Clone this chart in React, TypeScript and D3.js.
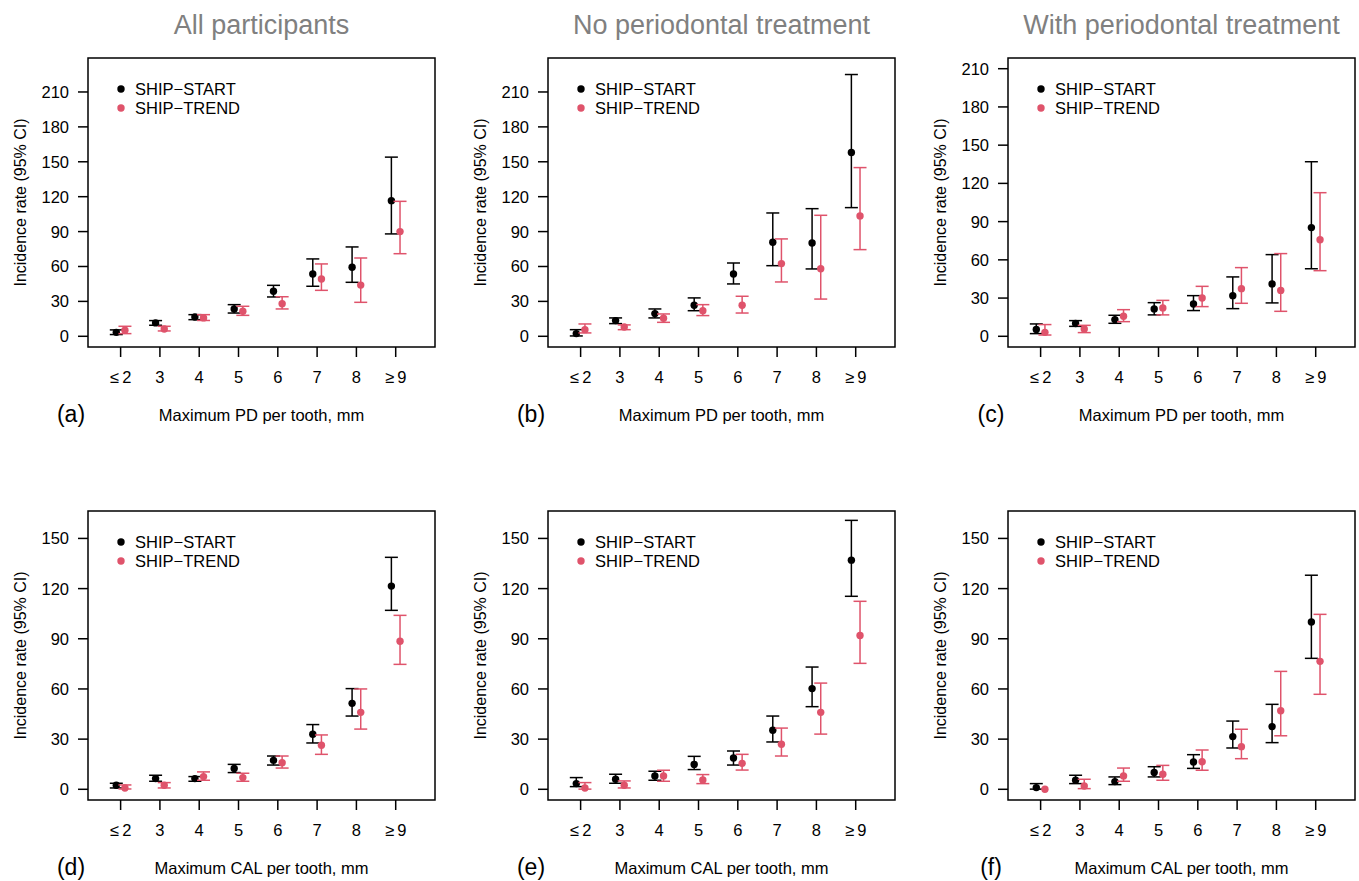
import * as d3 from "d3";
import React from "react";

const width = 1359;
const height = 881;
const font = "'Liberation Sans', Arial, Helvetica, sans-serif";
const red = "#DF536B";

// categories on the x axis
const categories = ["\u2264\u20092", "3", "4", "5", "6", "7", "8", "\u2265\u20099"];

const titles = ["All participants", "No periodontal treatment", "With periodontal treatment"];
const xTitles = ["Maximum PD per tooth, mm", "Maximum CAL per tooth, mm"];
const letters = ["(a)", "(b)", "(c)", "(d)", "(e)", "(f)"];
const legendLabels = ["SHIP\u2212START", "SHIP\u2212TREND"];

const yTicksTop = [0, 30, 60, 90, 120, 150, 180, 210];
const yTicksBottom = [0, 30, 60, 90, 120, 150];

// (a) all participants, PD
const startA = [3.4, 11.5, 16.6, 23.5, 38.7, 53.6, 59.3, 116.6];
const startALo = [1.5, 9.5, 14.3, 20, 33.8, 43, 46.4, 88];
const startAHi = [5.5, 13.5, 18.6, 27.2, 43.8, 66.5, 76.8, 154];
const trendA = [5.2, 6.3, 15.8, 21.5, 28, 49.3, 44, 90];
const trendALo = [2.3, 4.6, 13.6, 18, 23.5, 39.5, 29.2, 71];
const trendAHi = [8.6, 8.6, 18.6, 25.8, 34, 62.2, 67.3, 116];

// (b) no periodontal treatment, PD
const startB = [2.3, 13.5, 19.5, 26.7, 53.6, 80.8, 80.2, 158];
const startBLo = [0.3, 10.9, 15.8, 22, 45, 60.7, 57.9, 110.6];
const startBHi = [5.7, 15.8, 23.5, 33, 63, 106, 109.7, 225];
const trendB = [5.7, 8, 15.5, 22, 26.7, 62.5, 58, 103.5];
const trendBLo = [2.9, 5.7, 12, 17.8, 20, 46.7, 32, 74.5];
const trendBHi = [10.6, 9.8, 19.2, 27.2, 34.4, 83.7, 104, 145];

// (c) with periodontal treatment, PD
const startC = [5.3, 10, 13.1, 21.5, 25.4, 31.9, 41.1, 85.3];
const startCLo = [2.1, 7.8, 10.2, 16.8, 20.2, 21.7, 26.2, 53];
const startCHi = [9.7, 12.3, 16.5, 26.4, 31.9, 46.6, 64.1, 137];
const trendC = [3.1, 5.8, 15.7, 22.3, 30.1, 37.4, 36, 75.8];
const trendCLo = [1, 2.9, 11.5, 16.8, 23.3, 25.9, 19.6, 51.5];
const trendCHi = [9.2, 8.6, 20.9, 28.2, 39.2, 53.9, 64.9, 112.7];

// (d) all participants, CAL
const startD = [2.4, 6.4, 6.4, 12.4, 17.3, 32.9, 51.4, 121.5];
const startDLo = [0.8, 4.8, 4.8, 10, 14.5, 27.7, 43.8, 107];
const startDHi = [3.6, 8.4, 7.6, 14.9, 19.9, 38.7, 60.2, 138.7];
const trendD = [0.8, 2.4, 7.6, 7, 15.9, 26.3, 46, 88.5];
const trendDLo = [0.2, 0.8, 5.4, 4.8, 12.7, 20.9, 36, 74.7];
const trendDHi = [2.6, 4, 10.4, 9.6, 19.9, 32.5, 60, 104];

// (e) no periodontal treatment, CAL
const startE = [3.4, 6, 8, 14.9, 18.7, 35.3, 60.2, 137];
const startELo = [1.6, 3.6, 5.4, 11.8, 14.5, 28.3, 49.4, 115.4];
const startEHi = [7, 9, 10.8, 19.7, 22.9, 43.8, 73.1, 160.8];
const trendE = [0.8, 2.4, 8, 5.6, 15.5, 26.9, 46, 92];
const trendELo = [0.1, 0.8, 4.8, 3.4, 11.5, 19.9, 33, 75.3];
const trendEHi = [4, 5, 11.4, 8.8, 20.9, 36.6, 63.5, 112.4];

// (f) with periodontal treatment, CAL
const startF = [1, 5.4, 4.6, 10, 16.3, 31.5, 37.5, 100];
const startFLo = [0.1, 3.4, 2.8, 7.4, 12.5, 24.7, 27.9, 78.3];
const startFHi = [3.4, 8.4, 7.4, 13.5, 20.7, 40.8, 50.8, 128];
const trendF = [0, 2, 8, 9, 16.5, 25.5, 47, 76.5];
const trendFLo = [0, 0.4, 4.8, 5.4, 11.4, 18.3, 32, 56.8];
const trendFHi = [0.4, 6, 12.7, 14.3, 23.5, 35.9, 70.5, 104.6];

const panels = [
  { start: [startA, startALo, startAHi], trend: [trendA, trendALo, trendAHi], ymax: 230, ticks: yTicksTop },
  { start: [startB, startBLo, startBHi], trend: [trendB, trendBLo, trendBHi], ymax: 230, ticks: yTicksTop },
  { start: [startC, startCLo, startCHi], trend: [trendC, trendCLo, trendCHi], ymax: 210, ticks: yTicksTop },
  { start: [startD, startDLo, startDHi], trend: [trendD, trendDLo, trendDHi], ymax: 160, ticks: yTicksBottom },
  { start: [startE, startELo, startEHi], trend: [trendE, trendELo, trendEHi], ymax: 160, ticks: yTicksBottom },
  { start: [startF, startFLo, startFHi], trend: [trendF, trendFLo, trendFHi], ymax: 160, ticks: yTicksBottom },
];

const boxW = 347;
const boxTops = [58, 511];
const boxH = 289;
const colStep = 460;
const firstLeft = 88;
const offset = 0.11;
const cap = 6.5;

const Panel = ({ p, i }: { p: any; i: number }) => {
  const row = Math.floor(i / 3);
  const col = i % 3;
  const left = firstLeft + col * colStep;
  const top = boxTops[row];
  const bottom = top + boxH;

  const x = d3.scaleLinear().domain([0.17, 9.0]).range([left, left + boxW]);
  const ext = p.ymax * 0.04;
  const y = d3.scaleLinear().domain([-ext, p.ymax + ext]).range([bottom, top]);

  const series = [
    { vals: p.start, color: "black", dx: -offset },
    { vals: p.trend, color: red, dx: offset },
  ];

  return (
    <g fontFamily={font}>
      {row === 0 && (
        <text x={left + boxW / 2} y={34} textAnchor="middle" fontSize={27} fill="#808080">
          {titles[col]}
        </text>
      )}
      <rect x={left} y={top} width={boxW} height={boxH} fill="none" stroke="black" strokeWidth={1.5} />
      {p.ticks.map((t: number) => (
        <g key={t}>
          <line x1={left - 10} x2={left} y1={y(t)} y2={y(t)} stroke="black" strokeWidth={1.5} />
          <text x={left - 19} y={y(t) + 6} textAnchor="end" fontSize={16.5}>
            {t}
          </text>
        </g>
      ))}
      {categories.map((c, k) => (
        <g key={c}>
          <line x1={x(k + 1)} x2={x(k + 1)} y1={bottom} y2={bottom + 10} stroke="black" strokeWidth={1.5} />
          <text x={x(k + 1)} y={bottom + 36} textAnchor="middle" fontSize={16.5}>
            {c}
          </text>
        </g>
      ))}
      <text
        transform={`translate(${left - 62}, ${top + boxH / 2}) rotate(-90)`}
        textAnchor="middle"
        fontSize={16}
      >
        Incidence rate (95% CI)
      </text>
      <text x={left + boxW / 2} y={bottom + 74} textAnchor="middle" fontSize={16.5}>
        {xTitles[row]}
      </text>
      <text x={left - 17} y={bottom + 75} textAnchor="middle" fontSize={23}>
        {letters[i]}
      </text>
      {series.map((s) =>
        s.vals[0].map((v: number, k: number) => {
          const cx = x(k + 1 + s.dx);
          const lo = s.vals[1][k];
          const hi = s.vals[2][k];
          return (
            <g key={s.color + k} stroke={s.color} strokeWidth={1.5}>
              {hi - lo > 0.5 && (
                <>
                  <line x1={cx} x2={cx} y1={y(lo)} y2={y(hi)} />
                  <line x1={cx - cap} x2={cx + cap} y1={y(lo)} y2={y(lo)} />
                  <line x1={cx - cap} x2={cx + cap} y1={y(hi)} y2={y(hi)} />
                </>
              )}
              <circle cx={cx} cy={y(v)} r={3.7} fill={s.color} stroke="none" />
            </g>
          );
        })
      )}
      {legendLabels.map((l, k) => (
        <g key={l}>
          <circle cx={left + 33} cy={top + 31 + k * 19} r={3.7} fill={k === 0 ? "black" : red} />
          <text x={left + 47} y={top + 37 + k * 19} fontSize={16.5}>
            {l}
          </text>
        </g>
      ))}
    </g>
  );
};

export default function App() {
  return (
    <svg
      width={width}
      height={height}
      style={{ position: "absolute", left: 0, top: 0, background: "white" }}
    >
      <rect width={width} height={height} fill="white" />
      {panels.map((p, i) => (
        <Panel key={i} p={p} i={i} />
      ))}
    </svg>
  );
}
